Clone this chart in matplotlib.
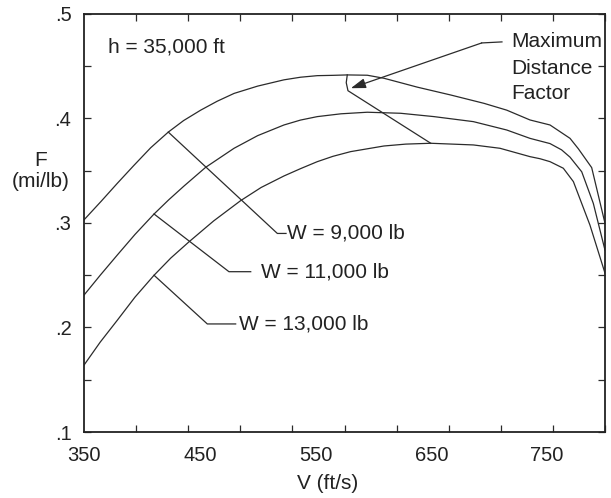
import matplotlib
matplotlib.use('Agg')
import matplotlib.pyplot as plt
import numpy as np

plt.rcParams['font.family'] = ['Liberation Sans', 'DejaVu Sans']

# Distance factor curves, h = 35,000 ft
v_9000 = [350, 365, 378.8, 393, 407.6, 422.8, 436, 450.8, 465, 479.6, 500, 522.7,
          537, 551.5, 565, 577.4, 594.7, 609.1, 637.9, 666.7, 695.5, 715.1, 735.2,
          752.5, 769.8, 777, 788.5, 800]
f_9000 = [0.303, 0.321, 0.338, 0.355, 0.372, 0.387, 0.398, 0.408, 0.4165, 0.424, 0.431, 0.437,
          0.4395, 0.441, 0.4413, 0.4417, 0.4414, 0.4385, 0.430, 0.4225, 0.4145, 0.408, 0.3986,
          0.3938, 0.381, 0.371, 0.353, 0.2997]

v_11000 = [350, 364, 378.8, 394, 410.5, 423, 436.4, 455.1, 479.6, 500, 522.7, 537, 551.5,
           572, 594.7, 623.5, 652.3, 686.3, 715.1, 735.2, 752.5, 762.5, 769.8, 779.9, 789.9, 800]
f_11000 = [0.231, 0.250, 0.2694, 0.289, 0.3086, 0.322, 0.3354, 0.3533, 0.3715, 0.3836, 0.3938,
           0.3985, 0.4018, 0.4045, 0.406, 0.405, 0.4018, 0.397, 0.389, 0.381, 0.376, 0.370,
           0.363, 0.349, 0.3188, 0.274]

v_13000 = [350, 364, 378.8, 394, 410.5, 425, 440.7, 462, 485.3, 503, 522.7, 537, 551.5,
           565, 580.3, 609.1, 628, 649.5, 686.3, 709.3, 735.2, 743.9, 752.5, 764, 772.7, 787, 800]
f_13000 = [0.164, 0.186, 0.207, 0.229, 0.250, 0.2665, 0.282, 0.302, 0.3214, 0.334, 0.345,
           0.352, 0.3587, 0.3638, 0.3683, 0.3737, 0.3755, 0.3763, 0.3747, 0.3715, 0.3635,
           0.3615, 0.3587, 0.3524, 0.3396, 0.298, 0.252]

# locus of maximum distance factor
v_max = [577.4, 576.5, 578.0, 649.5]
f_max = [0.4417, 0.4343, 0.4266, 0.3763]

x_labels = [350, 450, 550, 650, 750]
y_labels = [0.1, 0.2, 0.3, 0.4, 0.5]

LINE = '#2b2b2b'
TEXT = '#222222'
FS = 15

fig = plt.figure(figsize=(6.11, 4.98), dpi=100)
ax = fig.add_axes([84 / 611, 66 / 498, 521 / 611, 418 / 498])

for v, f in [(v_9000, f_9000), (v_11000, f_11000), (v_13000, f_13000)]:
    ax.plot(v, f, color=LINE, lw=0.9)
ax.plot(v_max, f_max, color=LINE, lw=0.9)

# weight leaders
leaders = [
    ([422.8, 517.0, 524.5], [0.387, 0.290, 0.290], 525.5, 0.290, 'W = 9,000 lb'),
    ([410.5, 475.2, 494.0], [0.3086, 0.2534, 0.2534], 502.9, 0.2534, 'W = 11,000 lb'),
    ([410.5, 456.5, 481.0], [0.250, 0.2034, 0.2034], 483.9, 0.2034, 'W = 13,000 lb'),
]
for lx, ly, tx, ty, label in leaders:
    ax.plot(lx, ly, color=LINE, lw=0.9)
    ax.text(tx, ty, label, fontsize=FS, color=TEXT, ha='left', va='center')

# maximum distance factor callout
ax.plot([693.5, 711.0], [0.4723, 0.4733], color=LINE, lw=0.9)
ax.annotate('', xy=(580.5, 0.429), xytext=(693.5, 0.4723),
            arrowprops=dict(arrowstyle='-|>,head_length=0.9,head_width=0.3',
                            color=LINE, lw=0.9, shrinkA=0, shrinkB=0))
ax.text(718.8, 0.4738, 'Maximum', fontsize=FS, color=TEXT, ha='left', va='center')
ax.text(718.8, 0.4480, 'Distance', fontsize=FS, color=TEXT, ha='left', va='center')
ax.text(718.8, 0.4235, 'Factor', fontsize=FS, color=TEXT, ha='left', va='center')

ax.text(370.7, 0.4684, 'h = 35,000 ft', fontsize=FS, color=TEXT, ha='left', va='center')

ax.set_xlim(350, 800)
ax.set_ylim(0.1, 0.5)

ax.set_xticks(x_labels)
ax.set_xticklabels([str(x) for x in x_labels])
ax.set_xticks(np.linspace(350, 800, 11), minor=True)
ax.set_yticks(y_labels)
ax.set_yticklabels(['.%d' % round(y * 10) for y in y_labels])
ax.set_yticks(np.arange(0.15, 0.5, 0.1), minor=True)

ax.tick_params(axis='x', which='major', length=0, pad=10, labelsize=14.5, labelcolor=TEXT)
ax.tick_params(axis='x', which='minor', direction='in', length=5, width=0.9,
               top=True, bottom=True, color=LINE)
ax.tick_params(axis='y', which='both', direction='in', length=5, width=0.9,
               left=True, right=True, color=LINE, pad=9, labelsize=14.5, labelcolor=TEXT)

for sp in ax.spines.values():
    sp.set_linewidth(1.3)
    sp.set_color('#222222')

ax.set_xlabel('V (ft/s)', fontsize=FS, color=TEXT)
ax.xaxis.set_label_coords((327.6 - 84) / 521, (432 - 474) / 418)

ax.set_ylabel('F\n(mi/lb)', fontsize=FS, color=TEXT, rotation=0,
              ha='center', va='center', linespacing=1.1)
ax.yaxis.set_label_coords((41 - 84) / 521, (432 - 171) / 418)

fig.savefig('out.png', dpi=100, facecolor='white')
